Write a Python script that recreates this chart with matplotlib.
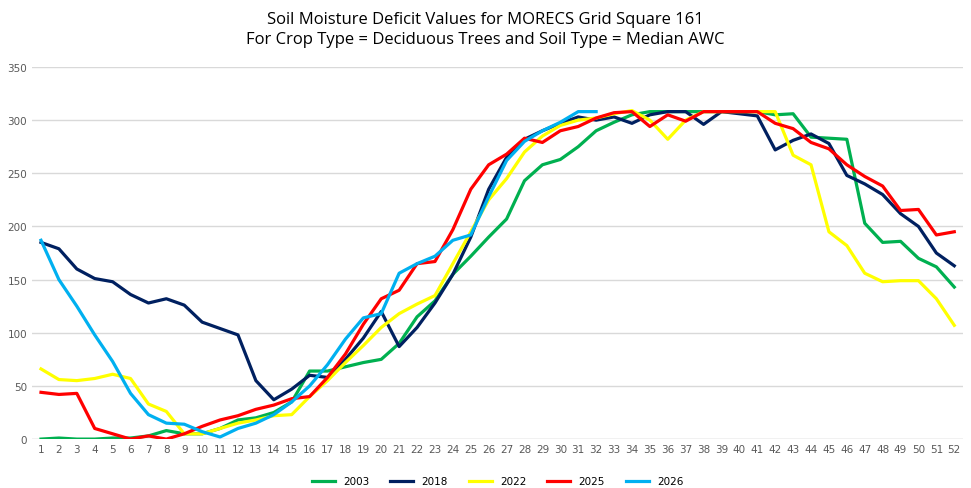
import matplotlib.pyplot as plt
import numpy as np

weeks = list(range(1, 53))
y2003 = [0,1,0,0,1,1,3,8,5,5,10,18,20,25,35,64,64,68,72,75,90,115,130,155,172,190,207,243,258,263,275,290,
         298,305,308,308,308,308,308,308,308,305,306,284,283,282,203,185,186,170,162,143]
y2018 = [185,179,160,151,148,136,128,132,126,110,104,98,55,37,47,60,58,75,95,120,87,105,128,155,190,235,265,282,
         290,297,303,300,303,297,305,308,308,296,308,306,304,272,281,287,278,248,240,230,212,200,175,161]
y2018[-1] = 163
y2022 = [66,56,55,57,61,57,33,26,5,5,10,15,18,22,23,40,55,72,88,105,118,127,135,165,195,225,245,270,285,295,300,
         302,306,309,300,282,300,308,308,308,308,308,267,258,195,182,156,148,149,149,132,107]
y2025 = [44,42,43,10,5,0,3,0,5,12,18,22,28,32,38,40,58,80,108,132,140,165,167,197,235,258,268,283,279,290,294,
         302,307,308,294,305,299,308,308,308,308,297,292,279,273,258,247,238,215,216,192,195]
y2026 = [187,150,125,98,73,43,23,15,14,7,2,10,15,23,35,50,70,94,114,118,156,165,172,187,192,228,262,280,290,298,
         308,308]

series = [("2003", y2003, "#00b050"), ("2018", y2018, "#002060"), ("2022", y2022, "#ffff00"),
          ("2025", y2025, "#ff0000"), ("2026", y2026, "#00b0f0")]

fig = plt.figure(figsize=(9.71, 4.89), dpi=100)
ax = fig.add_axes([0.033, 0.100, 0.959, 0.761])
for name, vals, col in series:
    ax.plot(weeks[:len(vals)], vals, color=col, lw=2.3, label=name)

ax.set_xlim(0.5, 52.5)
ax.set_ylim(0, 350)
ax.set_xticks(weeks)
ax.set_yticks(range(0, 351, 50))
ax.tick_params(length=0, labelsize=7.5, colors="#595959")
ax.grid(axis="y", color="#d9d9d9", lw=1)
ax.set_axisbelow(True)
for s in ax.spines.values():
    s.set_visible(False)
ax.axhline(0, color="#d9d9d9", lw=1, zorder=0)

fig.suptitle("Soil Moisture Deficit Values for MORECS Grid Square 161\nFor Crop Type = Deciduous Trees and Soil Type = Median AWC",
             y=0.975, fontsize=12, color="#000000", linespacing=1.3, family="Open Sans")
ax.legend(loc="upper center", bbox_to_anchor=(0.5, -0.075), ncol=5, frameon=False, fontsize=7.5,
          handlelength=2.2, columnspacing=2.0)
fig.savefig("out.png", dpi=100)
